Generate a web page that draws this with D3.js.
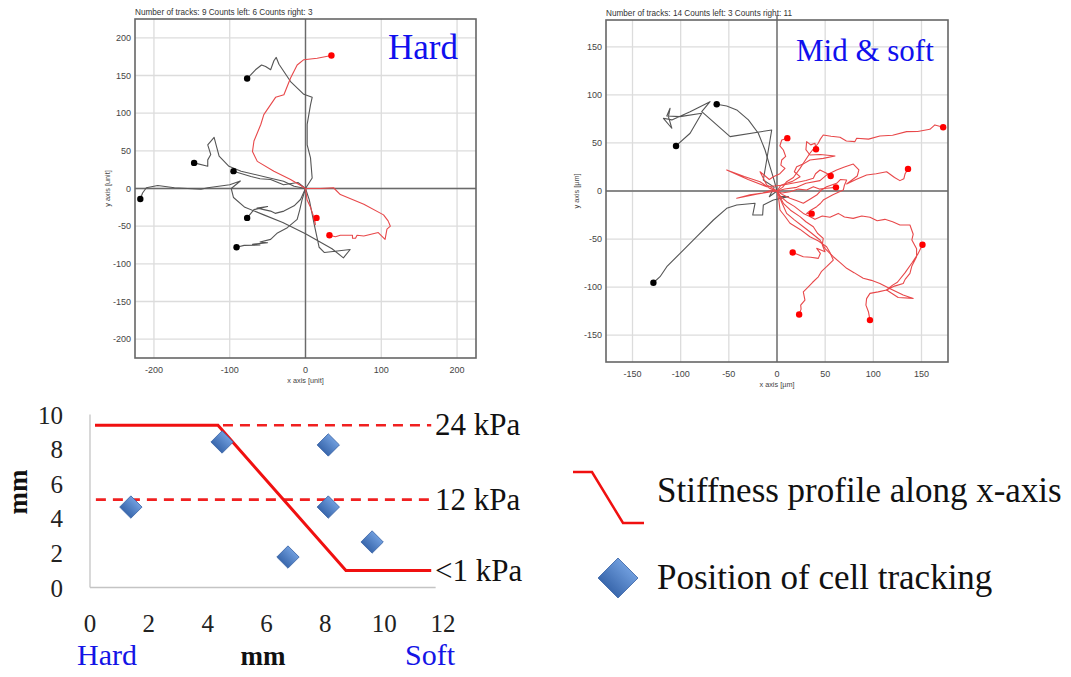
<!DOCTYPE html>
<html><head><meta charset="utf-8">
<script src="https://cdn.jsdelivr.net/npm/d3@7"></script>
<style>body{margin:0;background:#fff}</style>
</head><body><svg id="c" width="1071" height="677" xmlns="http://www.w3.org/2000/svg"></svg>
<script>
// ---------- DATA ----------
// Hard substrate tracks (units), each starts at origin and ends at the dot
const hardBlackTracks = [
  [[0,0],[8.8,14],[6.6,40.6],[2.2,58],[2.2,85],[6.6,111],[8.8,121],[-2.2,125],[-19.7,142],[-35,165],[-38.6,174],[-41.7,169.5],[-46,157.6],[-52.6,162],[-58,164],[-66,157.6],[-77,146]],
  [[0,0],[-15,3],[-29,9.7],[-50,14.5],[-85,23],[-101,29.5],[-114,43],[-118,58],[-120.6,68],[-129,58],[-125,45],[-129,38],[-129,29.5],[-147,34]],
  [[0,0],[-10,8],[-29,5],[-46,12],[-60,13],[-72,16],[-95,23]],
  [[0,0],[5,-15],[12,-50],[18,-78],[25,-85],[59,-81],[50,-92],[35,-80],[0,-60],[-30,-45],[-55,-35],[-80,-25],[-95,-12],[-98,0],[-86,10],[-100,5],[-129,1],[-138,-1],[-173,1],[-195,4],[-210,1],[-215,-6],[-218,-14]],
  [[0,0],[-6.6,-14.6],[-15,-23],[-28.5,-30],[-40,-33],[-46,-30],[-55,-28],[-64,-26],[-50,-24],[-68,-28],[-77,-39]],
  [[0,0],[-4.4,-14.6],[-7.5,-28],[-11,-41],[-24,-52],[-37,-59],[-46,-67.5],[-60,-71],[-50,-72],[-70,-74],[-60,-75],[-81,-75.5],[-91,-78]]
];
const hardRedTracks = [
  [[0,0],[-8,5],[-19.7,12],[-41.7,23],[-63.6,36],[-70,49],[-68,63],[-59,85],[-55,98],[-39.5,121],[-28.5,124.5],[-19.7,146.6],[-11,164],[-2.2,171],[15.4,173],[34.2,176.6]],
  [[0,0],[2,-15],[6.6,-25],[10,-35],[13,-48],[12,-40],[14.5,-39]],
  [[0,0],[20,0],[37,1],[46,-8],[77,-21],[103,-35],[109,-43],[112,-50],[107.5,-54],[105,-67.5],[96,-58.5],[77,-63],[68,-62],[66,-66],[62,-66],[62,-62],[46,-62],[39.5,-64],[31.6,-62]]
];
// Mid & soft substrate tracks (µm)
const midBlackTracks = [
  [[0,0],[-3.1,11.5],[-7.3,25.3],[-12.4,42.7],[-19.4,60.1],[-29.7,74],[-41.8,84.4],[-52.2,88.5],[-62.6,90.3]],
  [[0,0],[-8,-6],[-3,4],[-14.2,11.5],[-10.7,32.3],[-5.5,63.5],[-48.7,56.6],[-78.1,82.6],[-69.5,93],[-90.2,82.6],[-109.2,74],[-117.9,75.7],[-109.2,65.3],[-112.7,77.4],[-111,86.1],[-114.4,78.1],[-100.6,77.4],[-78.1,80.9],[-90.2,60.1],[-104.8,46.9]],
  [[0,0],[3.1,-5.9],[11.8,-5.9],[-3.8,-9.4],[-14.2,-14.6],[-14.9,-25],[-25.2,-25],[-22.8,-12.8],[-41.8,-14.6],[-52.2,-18],[-66,-30.2],[-83.3,-47.6],[-100.6,-64.9],[-114.4,-78.8],[-121.4,-89.2],[-128.3,-95.5]]
];
const midRedTracks = [
  [[0,0],[-6,4],[-10.7,6.3],[-17.6,20.1],[-8,12],[-3.8,14.9],[3,18],[8.3,23.6],[4,27],[4.9,32.3],[9,36],[6.6,42.7],[3,47],[4.9,53.1],[10.7,55]],
  [[0,0],[4,6],[10,8],[16,10],[23.9,14.9],[18,20],[20.4,25.3],[27,28],[34.2,32.3],[48,34],[60.2,36.5],[45,38],[34.2,37.5],[30,43],[30.8,51.4],[35,48],[39.4,49.7],[40.5,43.4]],
  [[0,0],[6,4],[10,9.7],[17,14],[23.9,23.6],[28,30],[34.2,39.3],[38,44],[42.8,49.7],[45,54],[48,58.3],[56,57],[65.4,55.9],[72,52],[80.9,51.4],[82.7,54.9],[95,54],[106.8,57.3],[120,58],[134.5,61.8],[146,62],[158.7,64.2],[163.9,68.8],[172.5,66.3]],
  [[0,0],[8,2],[20.4,3.8],[30,8],[44.6,10.8],[52,17],[61.9,21.9],[70,25],[79.2,28.1],[85,22],[83.3,15.6],[72.3,7.3],[82,12],[93,16.7],[103,18],[113.8,20.1],[122,14],[127.6,10.8],[131.7,12.8],[133,18],[136,23]],
  [[0,0],[-8,3],[-17.6,9.7],[-34,15],[-52.2,21.9],[-30,12],[-10.7,4.5],[5,6],[23.9,9.7],[30,11],[37.7,13.2],[40,18],[44.6,21.9],[51.5,18.4],[55.7,15.6]],
  [[0,0],[-20,-3],[-41.8,-7.6],[-28,-4],[-15,-2],[-5,1],[5,-2],[13.5,-0.7],[22,2],[30.8,1],[37.7,4.5],[44,2],[51.5,2.8],[61.2,3.8]],
  [[0,0],[6,-4],[13.5,-7.6],[20,-10],[27.3,-12.8],[35,-8],[41.2,-4.2],[46,1],[51.5,4.5],[56,6],[61.9,8],[66,12],[72.3,11.5],[70,6],[68.8,1],[58,-4],[48,-9.4],[45,-13],[41.2,-16.3],[35,-20],[30.8,-23.3],[36,-23.6]],
  [[0,0],[4,-6],[10,-11.1],[18,-16],[27.3,-23.3],[33,-26],[39.4,-29.5],[47,-26],[55,-27.4],[63.6,-23.3],[70,-27],[79.1,-28.5],[88,-26],[96.5,-27.4],[104,-31],[112,-29.5],[120,-32],[127.6,-35.4],[138,-35.4],[141.4,-45],[140,-51],[144.9,-60],[144.9,-68.4],[140,-78],[138,-85.7],[133,-92],[131,-96.2],[122,-99],[113.8,-103.1],[120,-98],[125,-95],[133,-85],[140,-75],[146,-66],[151,-56]],
  [[0,0],[3,-6],[6.6,-12.8],[14,-20],[23.9,-26.7],[30,-32],[37.7,-37.2],[42,-44],[48,-49.3],[47,-56],[49.8,-63.2],[41.2,-59.7],[45,-65],[42.9,-70.1],[35,-69],[27.3,-68.4],[16.3,-64]],
  [[0,0],[2,-10],[3.1,-19.8],[8,-26],[13.5,-33.6],[24,-40],[34.2,-47.6],[43,-52],[51.5,-58],[55,-64],[58.4,-71.9],[51.5,-78.8],[46,-84],[42.9,-89.3],[37,-95],[32.5,-99.7],[27.3,-104.9],[29,-113.5],[24.6,-118.8],[25,-123],[23,-128.5]],
  [[0,0],[5,-12],[10,-23.3],[18,-30],[27.3,-37.2],[36,-44],[44.6,-51],[50,-60],[58.4,-68.4],[65,-74],[72.3,-80.5],[80,-85],[89.5,-90.9],[98,-93],[106.8,-96.2],[118,-102],[131,-108.3],[141.4,-111.8],[125.8,-110.8],[113.8,-103.1],[105,-105],[96.5,-106.6],[93,-112],[92.3,-118.8],[95,-126],[96.5,-134.4]]
];
const hardHeader = "Number of tracks: 9  Counts left: 6  Counts right: 3";
const midHeader = "Number of tracks: 14  Counts left: 3  Counts right: 11";
const hardXTicks = [-200,-100,0,100,200];
const hardYTicks = [-200,-150,-100,-50,0,50,100,150,200];
const midTicks = [-150,-100,-50,0,50,100,150];

// Stiffness profile chart
const profileX = [0.17, 4.35, 8.7, 11.6];
const profileY = [9.38, 9.38, 0.98, 0.98];
const levelLabels = ["24 kPa", "12 kPa", "<1 kPa"];
const levelValues = [9.38, 5.08, 0.98];
const dashedStart = [4.52, 0.2];
const dashedEnd = 11.6;
const cellX = [1.39, 4.49, 8.1, 8.1, 6.73, 9.59];
const cellY = [4.65, 8.41, 8.24, 4.65, 1.76, 2.63];
const bottomXTicks = [0,2,4,6,8,10,12];
const bottomYTicks = [0,2,4,6,8,10];
const legendLabels = ["Stiffness profile along x-axis", "Position of cell tracking"];

// ---------- DRAW ----------
const svg = d3.select("#c");
const defs = svg.append("defs");
const SANS = "'Liberation Sans', Arial, sans-serif";
const SERIF = "'Liberation Serif', 'Times New Roman', serif";

function trackPlot(o) {
  const g = svg.append("g");
  const x = d3.scaleLinear().domain(o.xd).range([o.L, o.R]);
  const y = d3.scaleLinear().domain(o.yd).range([o.B, o.T]);
  g.selectAll(".gx").data(o.xt).join("line")
    .attr("x1", d => x(d)).attr("x2", d => x(d)).attr("y1", o.T).attr("y2", o.B)
    .attr("stroke", "#dcdcdc").attr("stroke-width", 1.3);
  g.selectAll(".gy").data(o.yt).join("line")
    .attr("y1", d => y(d)).attr("y2", d => y(d)).attr("x1", o.L).attr("x2", o.R)
    .attr("stroke", "#dcdcdc").attr("stroke-width", 1.3);
  g.append("line").attr("x1", x(0)).attr("x2", x(0)).attr("y1", o.zeroTop).attr("y2", o.B)
    .attr("stroke", "#6a6a6a").attr("stroke-width", 1.4);
  g.append("line").attr("y1", y(0)).attr("y2", y(0)).attr("x1", o.L).attr("x2", o.R)
    .attr("stroke", "#6a6a6a").attr("stroke-width", 1.4);
  g.append("rect").attr("x", o.L).attr("y", o.T).attr("width", o.R - o.L).attr("height", o.B - o.T)
    .attr("fill", "none").attr("stroke", "#666").attr("stroke-width", 1.6);
  g.selectAll(".tx").data(o.xtl).join("text")
    .attr("x", d => x(d)).attr("y", o.B + 15).attr("text-anchor", "middle")
    .attr("font-family", SANS).attr("font-size", 9).attr("fill", "#444").text(d => d);
  g.selectAll(".ty").data(o.ytl).join("text")
    .attr("x", o.L - 4).attr("y", d => y(d) + 3).attr("text-anchor", "end")
    .attr("font-family", SANS).attr("font-size", 9).attr("fill", "#444").text(d => d);
  g.append("text").attr("x", x(0)).attr("y", o.B + 25).attr("text-anchor", "middle")
    .attr("font-family", SANS).attr("font-size", 7.3).attr("fill", "#444").text(o.xlabel);
  g.append("text").attr("transform", `translate(${o.ylabX},${y(0)}) rotate(-90)`).attr("text-anchor", "middle")
    .attr("font-family", SANS).attr("font-size", 7.3).attr("fill", "#444").text(o.ylabel);
  g.append("text").attr("x", o.L).attr("y", o.T - 4).attr("font-family", SANS).attr("font-size", 8.2)
    .attr("fill", "#333").text(o.header);
  const cid = "clip" + o.id;
  defs.append("clipPath").attr("id", cid).append("rect")
    .attr("x", o.L).attr("y", o.T).attr("width", o.R - o.L).attr("height", o.B - o.T);
  const tg = g.append("g").attr("clip-path", `url(#${cid})`);
  const line = d3.line().x(d => x(d[0])).y(d => y(d[1]));
  tg.selectAll(".bt").data(o.black).join("path").attr("d", line)
    .attr("fill", "none").attr("stroke", "#555").attr("stroke-width", 1.1).attr("stroke-linejoin", "round");
  tg.selectAll(".rt").data(o.red).join("path").attr("d", line)
    .attr("fill", "none").attr("stroke", "#e8484a").attr("stroke-width", 1.1).attr("stroke-linejoin", "round");
  tg.selectAll(".bd").data(o.black).join("circle")
    .attr("cx", d => x(d[d.length-1][0])).attr("cy", d => y(d[d.length-1][1])).attr("r", 3.2).attr("fill", "#000");
  tg.selectAll(".rd").data(o.red).join("circle")
    .attr("cx", d => x(d[d.length-1][0])).attr("cy", d => y(d[d.length-1][1])).attr("r", 3.2).attr("fill", "#f00");
  g.append("text").attr("x", o.titleX).attr("y", o.titleY).attr("font-family", SERIF)
    .attr("font-size", o.titleSize).attr("fill", "#1010ee").text(o.title);
}

trackPlot({id: "h", L: 135, R: 476, T: 19, B: 358, xd: [-225,225], yd: [-225,225],
  xt: hardXTicks, yt: hardYTicks, xtl: hardXTicks, ytl: hardYTicks, zeroTop: 19,
  xlabel: "x axis [unit]", ylabel: "y axis [unit]", ylabX: 110,
  header: hardHeader, black: hardBlackTracks, red: hardRedTracks,
  title: "Hard", titleX: 388, titleY: 59, titleSize: 35});

trackPlot({id: "m", L: 606, R: 948, T: 20, B: 362, xd: [-177.5,177.5], yd: [-178,178],
  xt: midTicks, yt: midTicks, xtl: midTicks, ytl: midTicks, zeroTop: 15,
  xlabel: "x axis [µm]", ylabel: "y axis [µm]", ylabX: 579,
  header: midHeader, black: midBlackTracks, red: midRedTracks,
  title: "Mid & soft", titleX: 796, titleY: 61, titleSize: 31});

// ---------- bottom stiffness chart ----------
const bx = d3.scaleLinear().domain([0,12]).range([90,443]);
const by = d3.scaleLinear().domain([0,10]).range([587.5,414.5]);
const bg = svg.append("g");
bg.append("line").attr("x1", bx(0)).attr("x2", bx(0)).attr("y1", by(10)).attr("y2", by(0))
  .attr("stroke", "#c4c4c4").attr("stroke-width", 1.3);
bg.append("line").attr("x1", bx(0)).attr("x2", bx(11.75)).attr("y1", by(0)).attr("y2", by(0))
  .attr("stroke", "#c4c4c4").attr("stroke-width", 1.3);
bg.selectAll(".xt").data(bottomXTicks).join("text")
  .attr("x", d => bx(d)).attr("y", 632).attr("text-anchor", "middle")
  .attr("font-family", SERIF).attr("font-size", 25).attr("fill", "#222").text(d => d);
bg.selectAll(".yt").data(bottomYTicks).join("text")
  .attr("x", 63).attr("y", d => by(d) + 9).attr("text-anchor", "end")
  .attr("font-family", SERIF).attr("font-size", 25).attr("fill", "#222").text(d => d);
bg.selectAll(".dl").data(dashedStart).join("line")
  .attr("x1", d => bx(d)).attr("x2", bx(dashedEnd))
  .attr("y1", (d, i) => by(levelValues[i])).attr("y2", (d, i) => by(levelValues[i]))
  .attr("stroke", "#f02020").attr("stroke-width", 2.6).attr("stroke-dasharray", "10,7");
bg.append("path").datum(profileX.map((v, i) => [v, profileY[i]]))
  .attr("d", d3.line().x(d => bx(d[0])).y(d => by(d[1])))
  .attr("fill", "none").attr("stroke", "#f01010").attr("stroke-width", 3);
const grad = defs.append("linearGradient").attr("id", "dg").attr("x1", 0).attr("y1", 0).attr("x2", 0).attr("y2", 1);
grad.append("stop").attr("offset", "0%").attr("stop-color", "#6f9ddd");
grad.append("stop").attr("offset", "100%").attr("stop-color", "#3a68ad");
const diamond = d3.symbol().type(d3.symbolSquare).size(250);
bg.selectAll(".dm").data(cellX.map((v, i) => [v, cellY[i]])).join("path")
  .attr("d", diamond).attr("transform", d => `translate(${bx(d[0])},${by(d[1])}) rotate(45)`)
  .attr("fill", "url(#dg)").attr("stroke", "#3d67a8").attr("stroke-width", 0.8);
bg.selectAll(".lv").data(levelLabels).join("text")
  .attr("x", 435).attr("y", (d, i) => by(levelValues[i]) + 10)
  .attr("font-family", SERIF).attr("font-size", 31).attr("fill", "#111").text(d => d);
bg.append("text").attr("x", 77).attr("y", 665).attr("font-family", SERIF).attr("font-size", 30).attr("fill", "#1414e6").text("Hard");
bg.append("text").attr("x", 405).attr("y", 665).attr("font-family", SERIF).attr("font-size", 30).attr("fill", "#1414e6").text("Soft");
bg.append("text").attr("x", 263).attr("y", 665).attr("text-anchor", "middle").attr("font-family", SERIF)
  .attr("font-weight", "bold").attr("font-size", 27).attr("fill", "#111").text("mm");
bg.append("text").attr("transform", "translate(27,492) rotate(-90)").attr("text-anchor", "middle").attr("font-family", SERIF)
  .attr("font-weight", "bold").attr("font-size", 27).attr("fill", "#111").text("mm");

// legend
const lg = svg.append("g");
lg.append("path").attr("d", "M573,472 L592,472 L623,523 L644,523")
  .attr("fill", "none").attr("stroke", "#f01010").attr("stroke-width", 2.5);
lg.append("path").attr("d", d3.symbol().type(d3.symbolSquare).size(800)).attr("transform", "translate(618,578) rotate(45)")
  .attr("fill", "url(#dg)").attr("stroke", "#3d67a8").attr("stroke-width", 0.8);
lg.selectAll(".lt").data(legendLabels).join("text")
  .attr("x", 657).attr("y", (d, i) => i === 0 ? 502 : 589)
  .attr("font-family", SERIF).attr("font-size", 35).attr("fill", "#111").text(d => d);
</script>
</body></html>
